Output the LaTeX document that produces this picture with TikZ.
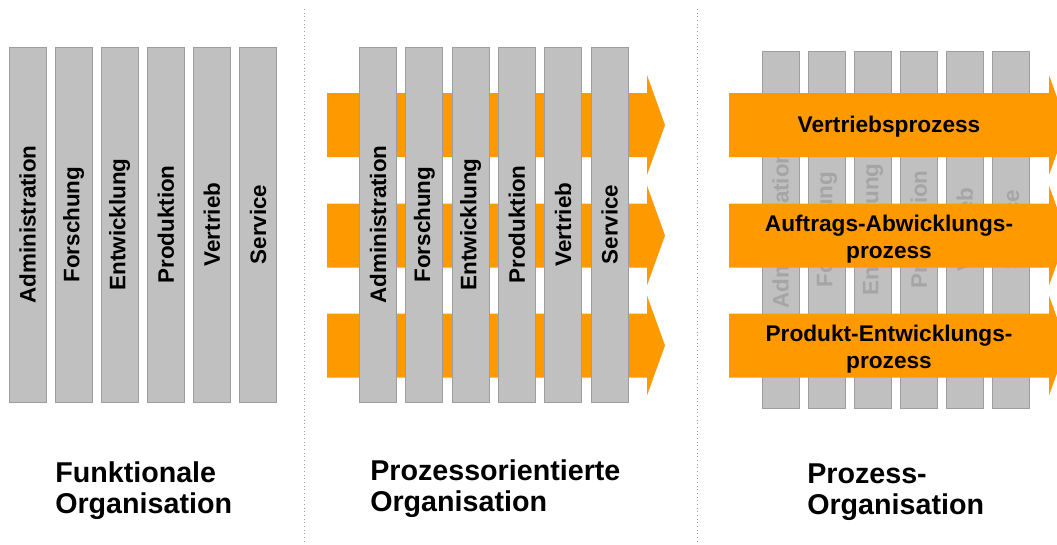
\documentclass[tikz,border=0pt]{standalone}
\usepackage{xcolor}
\usepackage{fontspec}
\setmainfont{Liberation Sans}
\usepackage{tikz}

\definecolor{procorange}{RGB}{255,153,0}
\definecolor{bargray}{RGB}{192,192,192}
\definecolor{barline}{RGB}{158,158,158}
\definecolor{fadetext}{RGB}{165,165,165}
\definecolor{sepgray}{RGB}{160,160,160}

\tikzset{
  dept/.style={draw=barline, fill=bargray, line width=0.75pt, rotate=90, inner sep=0pt,
    minimum width=266.25pt, minimum height=27.75pt,
    font=\fontsize{16.8}{18}\selectfont\bfseries},
  deptfade/.style={dept, minimum width=267.75pt, text=fadetext},
  proclabel/.style={align=center, inner sep=0pt, font=\fontsize{17}{20}\selectfont\bfseries},
  orgtitle/.style={align=left, inner sep=0pt, anchor=base west, font=\fontsize{21.5}{23.25}\selectfont\bfseries},
  divider/.style={draw=sepgray, line width=0.75pt, dotted}
}

% process arrow: left x, centre y
\newcommand{\procarrow}[2]{%
  \fill[procorange] (#1,#2-32) -- ++(320,0) -- ++(0,-18) -- ++(18,50) -- ++(-18,50) -- ++(0,-18) -- ++(-320,0) -- cycle;}

\begin{document}
\begin{tikzpicture}[x=0.75pt,y=0.75pt,yscale=-1,xscale=1]
    \useasboundingbox (0,0) rectangle (1057,544);
    \clip (0,0) rectangle (1057,544);

        % dividers
        \draw [divider] (304,9) -- (304,544);
        \draw [divider] (697,9) -- (697,544);

        % functional organisation
        \foreach \dname [count=\i from 0] in {Administration,Forschung,Entwicklung,Produktion,Vertrieb,Service}
            \node [dept] (fa\i) at (27.5+46.1*\i,224.5) {\dname};

        % process oriented organisation
        \procarrow{327}{125}
        \procarrow{327}{235.5}
        \procarrow{327}{345.5}
        \foreach \dname [count=\i from 0] in {Administration,Forschung,Entwicklung,Produktion,Vertrieb,Service}
            \node [dept] (pa\i) at (378+46.3*\i,224.5) {\dname};

        % process organisation
        \foreach \dname [count=\i from 0] in {Administration,Forschung,Entwicklung,Produktion,Vertrieb,Service}
            \node [deptfade] (ra\i) at (780.5+46.1*\i,229.5) {\dname};
        \procarrow{729}{125}
        \procarrow{729}{235.5}
        \procarrow{729}{345.5}
        \node [proclabel] (vp) at (889,127) {Vertriebsprozess};
        \node [proclabel] (ap) at (889,239) {Auftrags-Abwicklungs-\\prozess};
        \node [proclabel] (pp) at (889,349) {Produkt-Entwicklungs-\\prozess};

        % titles (base = last line)
        \node [orgtitle] (tfunk) at (55,513) {Funktionale\\Organisation};
        \node [orgtitle] (tporient) at (370,511) {Prozessorientierte\\Organisation};
        \node [orgtitle] (tporg) at (807,514) {Prozess-\\Organisation};
\end{tikzpicture}
\end{document}
